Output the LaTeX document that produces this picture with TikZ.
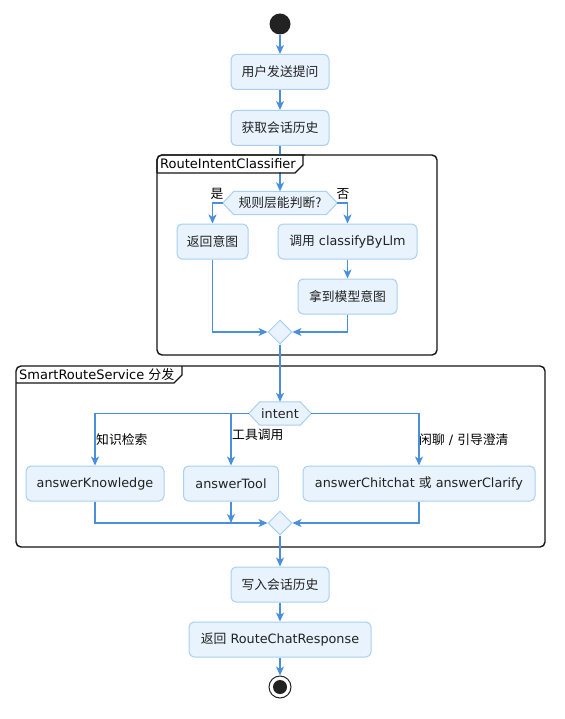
\documentclass[tikz,border=0pt]{standalone}
\usepackage{fontspec}
\setmainfont{DejaVu Sans}
\newfontfamily\cjk{Noto Sans CJK SC}
\usetikzlibrary{arrows.meta,shapes.geometric,calc}
\definecolor{boxfill}{HTML}{E8F3FD}
\definecolor{boxline}{HTML}{A9CFF2}
\definecolor{flowc}{HTML}{4A8FDB}
\definecolor{txt}{HTML}{222222}
\tikzset{
  act/.style={rectangle, rounded corners=5pt, draw=boxline, fill=boxfill, line width=1pt,
    minimum height=35, inner sep=0pt, text=txt, font=\fontsize{12.8}{14}\selectfont},
  hexlabel/.style={inner sep=0pt, minimum height=23, text=txt, font=\fontsize{12.8}{14}\selectfont},
  hexdraw/.style={draw=boxline, fill=boxfill, line width=1pt},
  merge/.style={diamond, aspect=1, draw=boxline, fill=boxfill, line width=1pt, minimum width=24, minimum height=24, inner sep=0pt},
  flow/.style={draw=flowc, line width=1.3pt, -{Stealth[length=9pt,width=8pt,inset=2.5pt]}},
  lbl/.style={inner sep=0pt, text=black, font=\fontsize{12.8}{14}\selectfont},
  ttl/.style={inner sep=0pt, text=black, font=\fontsize{13}{15}\selectfont},
  frame/.style={draw=black!92, line width=1.4pt, rounded corners=5pt},
  tab/.style={draw=black!92, line width=1.2pt},
}
\begin{document}
\begin{tikzpicture}[x=1pt,y=-1pt]
\useasboundingbox (0,0) rectangle (564,719);
% frames
\draw[frame] (157,155) rectangle (437,355);
\draw[frame] (16,366) rectangle (545,547);
\draw[tab] (16,383) -- (174,383) -- (182,375) -- (182,366);
\node[ttl, anchor=west] (ft2) at (19,375) {SmartRouteService {\cjk 分发}};
% start
\node[circle, fill=txt, minimum size=21, inner sep=0pt] (start) at (280,24) {};
\node[act, minimum width=98] (a1) at (280,72) {\cjk 用户发送提问};
\node[act, minimum width=98] (a2) at (280,128) {\cjk 获取会话历史};
% decision 1
\node[hexlabel, minimum width=114] (d1) at (280,203) {\cjk 规则层能判断?};
\draw[hexdraw] (d1.west) -- ($(d1.north west)+(11,0)$) -- ($(d1.north east)+(-11,0)$) -- (d1.east) -- ($(d1.south east)+(-11,0)$) -- ($(d1.south west)+(11,0)$) -- cycle;
\node[hexlabel] at (d1) {\cjk 规则层能判断?};
\node[act, minimum width=71] (r1) at (212.5,241.5) {\cjk 返回意图};
\node[act, minimum width=139] (c1) at (347.5,241.5) {{\cjk 调用} classifyByLlm};
\node[act, minimum width=99] (c2) at (347.5,296.5) {\cjk 拿到模型意图};
\node[merge] (m1) at (280,332) {};
\node[lbl] (yes) at (217,194) {\cjk 是};
\node[lbl] (no) at (343,194) {\cjk 否};
% decision 2
\node[hexlabel, minimum width=62] (d2) at (280,413.5) {intent};
\draw[hexdraw] (d2.west) -- ($(d2.north west)+(11,0)$) -- ($(d2.north east)+(-11,0)$) -- (d2.east) -- ($(d2.south east)+(-11,0)$) -- ($(d2.south west)+(11,0)$) -- cycle;
\node[hexlabel] at (d2) {intent};
\node[act, minimum width=138] (k) at (95,483.5) {answerKnowledge};
\node[act, minimum width=95] (t) at (231,483.5) {answerTool};
\node[act, minimum width=232] (ch) at (419,483.5) {answerChitchat {\cjk 或} answerClarify};
\node[merge] (m2) at (280,523) {};
\node[lbl, anchor=west] (lk) at (96,440) {\cjk 知识检索};
\node[lbl, anchor=west] (lt) at (232,435) {\cjk 工具调用};
\node[lbl, anchor=west] (lc) at (419,440) {{\cjk 闲聊} / {\cjk 引导澄清}};
% tail
\node[act, minimum width=98] (w) at (280,584.5) {\cjk 写入会话历史};
\node[act, minimum width=182] (ret) at (280,639.5) {{\cjk 返回} RouteChatResponse};
\node[circle, draw=txt, fill=white, line width=1pt, minimum size=22, inner sep=0pt] (end) at (280,687) {};
\node[circle, fill=txt, minimum size=14, inner sep=0pt] (endin) at (end) {};
% connectors
\draw[flow] (start) -- (a1);
\draw[flow] (a1) -- (a2);
\draw[flow] (a2) -- (d1.north);
\draw[flow] (d1.west) -| (r1.north);
\draw[flow] (d1.east) -| (c1.north);
\draw[flow] (c1) -- (c2);
\draw[flow] (r1.south) |- (m1.west);
\draw[flow] (c2.south) |- (m1.east);
\draw[flow] (m1.south) -- (d2.north);
\draw[flow] (d2.west) -| (k.north);
\draw[flow] (d2.west) -| (t.north);
\draw[flow] (d2.east) -| (ch.north);
\draw[flow] (k.south) |- (m2.west);
\draw[flow] (t.south) -- (t.south |- m2.west);
\draw[flow] (ch.south) |- (m2.east);
\draw[flow] (m2.south) -- (w);
\draw[flow] (w) -- (ret);
\draw[flow] (ret) -- (end);
% title tab of first frame, drawn over the connector
\fill[white] (158,156) -- (302.5,156) -- (302.5,165) -- (295,172.5) -- (158,172.5) -- cycle;
\draw[tab] (157,173) -- (295,173) -- (303,165) -- (303,155);
\draw[frame] (157,173) -- (157,155) -- (305,155);
\node[ttl, anchor=west] (ft1) at (160,164) {RouteIntentClassifier};
\end{tikzpicture}
\end{document}
